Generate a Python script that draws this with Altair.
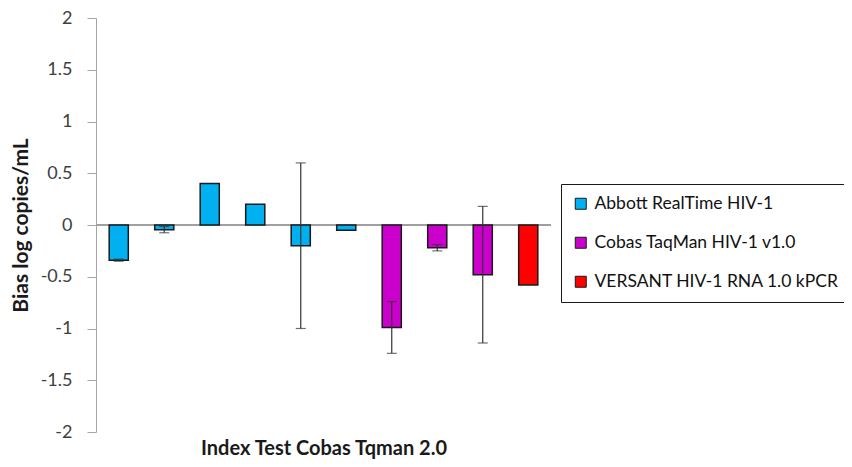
import altair as alt
import pandas as pd

studies = ["S1", "S2", "S3", "S4", "S5", "S6", "S7", "S8", "S9", "S10"]
groups = ["Abbott RealTime HIV-1"] * 6 + ["Cobas TaqMan HIV-1 v1.0"] * 3 + ["VERSANT HIV-1 RNA 1.0 kPCR"]
bias = [-0.34, -0.045, 0.40, 0.20, -0.20, -0.05, -0.99, -0.22, -0.48, -0.58]
err = [0.01, 0.03, 0.0, 0.0, 0.80, 0.0, 0.25, 0.03, 0.66, 0.0]

group_names = ["Abbott RealTime HIV-1", "Cobas TaqMan HIV-1 v1.0", "VERSANT HIV-1 RNA 1.0 kPCR"]
group_colors = ["#00B0F0", "#CC00CC", "#FF0000"]
y_ticks = [-2, -1.5, -1, -0.5, 0, 0.5, 1, 1.5, 2]

df = pd.DataFrame({"study": studies, "group": groups, "bias": bias, "err": err})
df["lo"] = df["bias"] - df["err"]
df["hi"] = df["bias"] + df["err"]

FONT = "Lato"

x_enc = alt.X(
    "study:N",
    sort=studies,
    scale=alt.Scale(paddingInner=0.58, paddingOuter=0.29),
    axis=alt.Axis(
        labels=False, ticks=False, domain=False, grid=False,
        title="Index Test Cobas Tqman 2.0", titleFont=FONT, titleFontSize=20,
        titleFontWeight="bold", titleColor="#1a1a1a", titlePadding=6,
    ),
)
y_scale = alt.Scale(domain=[-2, 2], nice=False)

base = alt.Chart(df)

zero = base.mark_rule(color="#a0a0a0", strokeWidth=1.5).encode(y=alt.datum(0, scale=y_scale))

bars = base.mark_bar(stroke="#1a1a1a", strokeWidth=1.5).encode(
    x=x_enc,
    y=alt.Y(
        "bias:Q",
        scale=y_scale,
        axis=alt.Axis(
            values=y_ticks, labelExpr="'' + datum.value",
            labelFont=FONT, labelFontSize=18, labelColor="#404040", labelPadding=15,
            tickSize=9, tickColor="#a6a6a6", domainColor="#a6a6a6",
            gridColor="#ececec", gridWidth=1,
            title="Bias log copies/mL", titleFont=FONT, titleFontSize=21,
            titleFontWeight="bold", titleColor="#1a1a1a", titlePadding=9,
        ),
    ),
    y2=alt.datum(0),
    color=alt.Color(
        "group:N",
        scale=alt.Scale(domain=group_names, range=group_colors),
        legend=alt.Legend(
            title=None, orient="none", legendX=465, legendY=166,
            symbolType="square", symbolSize=121, symbolStrokeColor="#1a1a1a",
            symbolStrokeWidth=1, labelFont=FONT, labelFontSize=17.5, labelColor="#111111",
            labelLimit=400, rowPadding=20, padding=11, strokeColor="#1a1a1a",
            labelOffset=5,
        ),
    ),
)

eb = base.transform_filter(alt.datum.err > 0)
rules = eb.mark_rule(color="#333333", strokeWidth=1.2).encode(
    x=alt.X("study:N", sort=studies), y=alt.Y("lo:Q", scale=y_scale), y2="hi:Q"
)
caps_lo = eb.mark_tick(color="#333333", thickness=1.2, size=10).encode(
    x=alt.X("study:N", sort=studies), y=alt.Y("lo:Q", scale=y_scale)
)
caps_hi = eb.mark_tick(color="#333333", thickness=1.2, size=10).encode(
    x=alt.X("study:N", sort=studies), y=alt.Y("hi:Q", scale=y_scale)
)

chart = (
    alt.layer(zero, bars, rules, caps_lo, caps_hi)
    .properties(
        width=455, height=414,
        autosize=alt.AutoSizeParams(type="none"),
        padding={"left": 88, "top": 10, "right": 293, "bottom": 27},
        background="white",
    )
    .configure_view(stroke=None)
)

chart.save("out.html", embed_options={"renderer": "svg", "actions": False})
